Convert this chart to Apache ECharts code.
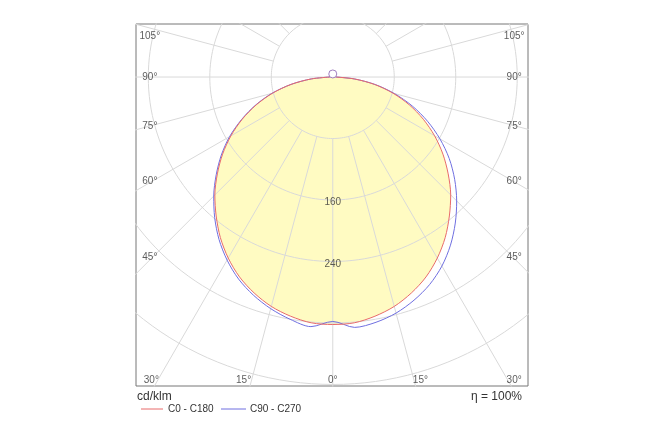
<!DOCTYPE html>
<html><head><meta charset="utf-8">
<script src="https://cdn.jsdelivr.net/npm/echarts@6/dist/echarts.min.js"></script>
<style>html,body{margin:0;padding:0;background:#fff}#c{width:666px;height:444px}</style>
</head><body><div id="c"></div>
<script>
const gammas = [0,5,10,15,20,25,30,35,40,45,50,55,60,65,70,75,80,85,90];
const c0c180 = [322,321,316,309,299,287,272,255,236,217,196,175,153,130,106,81,55,28,4];
const c90 = [318,327,324,318,309,298,284,267,248,228,207,185,161,136,110,83,56,28,4];
const c270 = [318,326,320,312,302,290,275,258,239,219,198,177,155,131,107,82,55,28,4];
const ringValues = [80,160,240,320,400,480];
const ringLabels = ['160','240'];
const angleLabels = ['30°','15°','0°','15°','30°','45°','60°','75°','90°','105°'];

const rad = d => d*Math.PI/180;
function curve(left, right){
  const pts=[];
  for(let i=gammas.length-1;i>=0;i--) pts.push([-left[i]*Math.sin(rad(gammas[i])), -left[i]*Math.cos(rad(gammas[i]))]);
  for(let i=1;i<gammas.length;i++) pts.push([right[i]*Math.sin(rad(gammas[i])), -right[i]*Math.cos(rad(gammas[i]))]);
  return pts;
}
const red = curve(c0c180, c0c180);
const blue = curve(c270, c90);

const series=[];
series.push({type:'custom',z:1,clip:true,renderItem:(p,api)=>{
  if(p.dataIndex!==0) return;
  return {type:'polygon',shape:{points:red.map(q=>api.coord(q)),smooth:0.3},style:{fill:'#fffbc2',stroke:null}};
},data:[[0,0]]});
ringValues.forEach(r=>{
  const pts=[];for(let a=0;a<=360;a+=2) pts.push([r*Math.sin(rad(a)),r*Math.cos(rad(a))]);
  series.push({type:'line',data:pts,showSymbol:false,silent:true,z:2,lineStyle:{color:'#d9d9d9',width:1}});
});
for(let a=0;a<=180;a+=15){
  const L = a===90?0:80;
  [1,-1].forEach(s=>{
    if((a===0||a===180)&&s<0) return;
    series.push({type:'line',showSymbol:false,silent:true,z:2,lineStyle:{color:'#d9d9d9',width:1},
      data:[[s*L*Math.sin(rad(a)),-L*Math.cos(rad(a))],[s*700*Math.sin(rad(a)),-700*Math.cos(rad(a))]]});
  });
}
series.push({type:'line',data:blue,smooth:0.3,showSymbol:false,z:4,lineStyle:{color:'#6f6fe0',width:1}});
series.push({type:'line',data:red,smooth:0.3,showSymbol:false,z:5,lineStyle:{color:'#e86a6a',width:1}});
series.push({type:'scatter',data:[[0,4]],symbol:'circle',symbolSize:8,z:6,itemStyle:{color:'#fff',borderColor:'#8a5fb0',borderWidth:1}});
series.push({type:'scatter',symbolSize:0,z:7,data:[[0,-163],[0,-243]].map((p,i)=>({value:p,label:{show:true,formatter:ringLabels[i],color:'#333',fontSize:10,fontFamily:'Liberation Sans',position:'inside'}}))});
const lab = [[-236,-395],[-116,-395],[0,-395],[114,-395],[236,-395],
             [-238,-235],[-238,-135],[-238,-64],[-238,0],[-238,53]];
const labR = [[0,0],[0,0],[0,0],[0,0],[0,0],[236,-235],[236,-135],[236,-64],[236,0],[236,53]];
const angData=[];
lab.forEach((p,i)=>angData.push({value:p,label:{show:true,formatter:angleLabels[i],color:'#333',fontSize:10,fontFamily:'Liberation Sans',position:'inside'}}));
for(let i=5;i<10;i++) angData.push({value:labR[i],label:{show:true,formatter:angleLabels[i],color:'#333',fontSize:10,fontFamily:'Liberation Sans',position:'inside'}});
series.push({type:'scatter',symbolSize:0,z:7,data:angData});

const chart=echarts.init(document.getElementById('c'));
chart.setOption({animation:false,
  grid:{left:136,top:24,width:392,height:362,show:true,borderColor:'#777',borderWidth:1,backgroundColor:'transparent'},
  xAxis:{type:'value',min:-256,max:254,show:false},
  yAxis:{type:'value',min:-402,max:69,show:false},
  series:series,
  graphic:[
    {type:'text',left:137,top:391,style:{text:'cd/klm',fontSize:12,fontFamily:'Liberation Sans',fill:'#333'}},
    {type:'text',right:144,top:391,style:{text:'η = 100%',fontSize:12,fontFamily:'Liberation Sans',fill:'#333'}},
    {type:'line',shape:{x1:141,y1:409,x2:163,y2:409},style:{stroke:'#e86a6a',lineWidth:1}},
    {type:'text',left:168,top:404,style:{text:'C0 - C180',fontSize:10,fontFamily:'Liberation Sans',fill:'#333'}},
    {type:'line',shape:{x1:221,y1:409,x2:246,y2:409},style:{stroke:'#6f6fe0',lineWidth:1}},
    {type:'text',left:250,top:404,style:{text:'C90 - C270',fontSize:10,fontFamily:'Liberation Sans',fill:'#333'}}
  ]});
</script></body></html>
